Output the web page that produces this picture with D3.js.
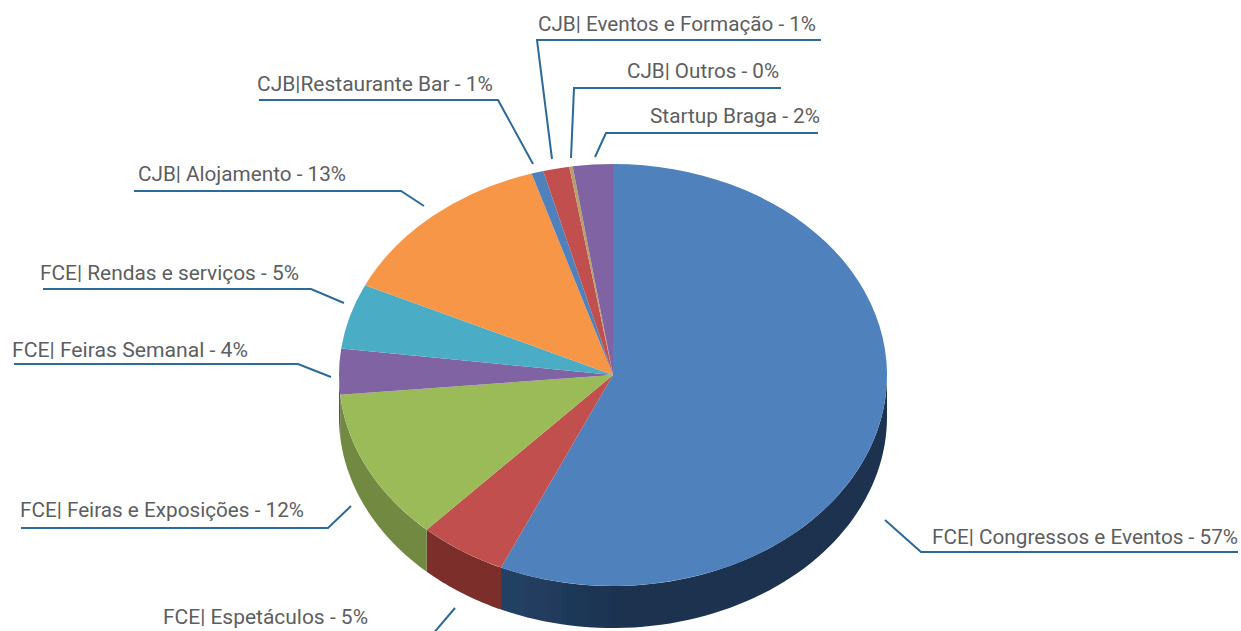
<!DOCTYPE html>
<html>
<head>
<meta charset="utf-8">
<script src="https://cdn.jsdelivr.net/npm/d3@7"></script>
<style>
  html, body { margin: 0; padding: 0; background: #fff; }
  svg { display: block; }
  text { font-family: Roboto, "Open Sans", sans-serif; font-weight: 400; font-size: 20px; fill: #5d5e60; }
</style>
</head>
<body>
<div id="plot"></div>
<script>
// clockwise from 12 o'clock
const categories = [
  "FCE| Congressos e Eventos", "FCE| Espetáculos", "FCE| Feiras e Exposições",
  "FCE| Feiras Semanal", "FCE| Rendas e serviços", "CJB| Alojamento",
  "CJB|Restaurante Bar", "CJB| Eventos e Formação", "CJB| Outros", "Startup Braga"
];
const shares = [56.7, 5.2, 11.6, 3.5, 5.0, 13.2, 0.7, 1.55, 0.2, 2.35];
const percentLabels = ["57%", "5%", "12%", "4%", "5%", "13%", "1%", "1%", "0%", "2%"];

const topColors = ["#4f81bd", "#c0504d", "#9bbb59", "#8064a2", "#4bacc6", "#f79646", "#4f81bd", "#c0504d", "#b5a06c", "#8064a2"];
const wallColors = ["#1e3553", "#7b2e2b", "#71893f", "#5d4a78", "#33788c", "#b36a2e", "#1e3553", "#7b2e2b", "#8a7a50", "#5d4a78"];

// label box: left, right, baseline; leader: elbow line, annotation only
const labelSpots = [
  { x0: 932, x1: 1238, y: 544, line: [[1238, 552], [921, 552], [885, 520]] },
  { x0: 163, x1: 368, y: 624, line: [[432, 635], [455, 608]] },
  { x0: 20, x1: 304, y: 517, line: [[21, 528], [328, 528], [351, 506]] },
  { x0: 12, x1: 248, y: 357, line: [[14, 364], [298, 364], [331, 377]] },
  { x0: 40, x1: 299, y: 280, line: [[43, 289], [311, 289], [344, 303]] },
  { x0: 138, x1: 346, y: 181, line: [[134, 191], [401, 191], [424, 206]] },
  { x0: 257, x1: 493, y: 91, line: [[259, 100], [498, 100], [533, 164]] },
  { x0: 538, x1: 816, y: 31, line: [[821, 40], [537, 40], [552, 159]] },
  { x0: 627, x1: 779, y: 78, line: [[781, 88], [574, 88], [571, 158]] },
  { x0: 650, x1: 820, y: 123, line: [[818, 133], [606, 133], [595, 157]] }
];

const width = 1241, height = 631;
const cx = 613, cy = 375, rx = 274, ry = 211, depth = 42;

const svg = d3.select("#plot").append("svg")
  .attr("width", width)
  .attr("height", height);

const defs = svg.append("defs");
defs.append("filter").attr("id", "soft")
  .append("feGaussianBlur").attr("stdDeviation", 0.7);

// blue wall is a touch lighter at its left end
const wallGrad = defs.append("linearGradient").attr("id", "blueWall")
  .attr("gradientUnits", "userSpaceOnUse")
  .attr("x1", 500).attr("x2", 620).attr("y1", 0).attr("y2", 0);
wallGrad.append("stop").attr("offset", 0).attr("stop-color", "#244265");
wallGrad.append("stop").attr("offset", 1).attr("stop-color", "#1c3250");

const pie = d3.pie().sort(null)(shares);
const arc = d3.arc().innerRadius(0).outerRadius(rx);

const pieGroup = svg.append("g").attr("filter", "url(#soft)");

// side walls, only the part of each slice that faces the viewer
const wallLine = d3.line();
function wallPoints(d) {
  let a0 = Math.max(d.startAngle, Math.PI / 2);
  let a1 = Math.min(d.endAngle, Math.PI * 3 / 2);
  if (a1 <= a0) return null;
  let angles = d3.range(0, 61).map(i => a0 + (a1 - a0) * i / 60);
  let top = angles.map(a => [cx + rx * Math.sin(a), cy - ry * Math.cos(a)]);
  let bottom = top.map(p => [p[0], p[1] + depth]).reverse();
  return top.concat(bottom);
}

pieGroup.selectAll("path.wall")
  .data(pie)
  .enter()
  .append("path")
    .attr("class", "wall")
    .attr("d", d => { let p = wallPoints(d); return p ? wallLine(p) + "Z" : null; })
    .attr("fill", (d, i) => i == 0 ? "url(#blueWall)" : wallColors[i]);

pieGroup.append("g")
  .attr("transform", "translate(" + cx + "," + cy + ") scale(1," + (ry / rx) + ")")
  .selectAll("path.slice")
  .data(pie)
  .enter()
  .append("path")
    .attr("class", "slice")
    .attr("d", arc)
    .attr("fill", (d, i) => topColors[i]);

// leaders
svg.selectAll("path.leader")
  .data(labelSpots)
  .enter()
  .append("path")
    .attr("class", "leader")
    .attr("d", d => d3.line()(d.line))
    .attr("fill", "none")
    .attr("stroke", "#2b6a9b")
    .attr("stroke-width", 2);

// labels squeezed to the measured width of the original typeface
svg.selectAll("text.label")
  .data(labelSpots)
  .enter()
  .append("text")
    .attr("class", "label")
    .attr("x", d => d.x0)
    .attr("y", d => d.y)
    .attr("textLength", d => d.x1 - d.x0)
    .attr("lengthAdjust", "spacingAndGlyphs")
    .text((d, i) => categories[i] + " - " + percentLabels[i]);
</script>
</body>
</html>
